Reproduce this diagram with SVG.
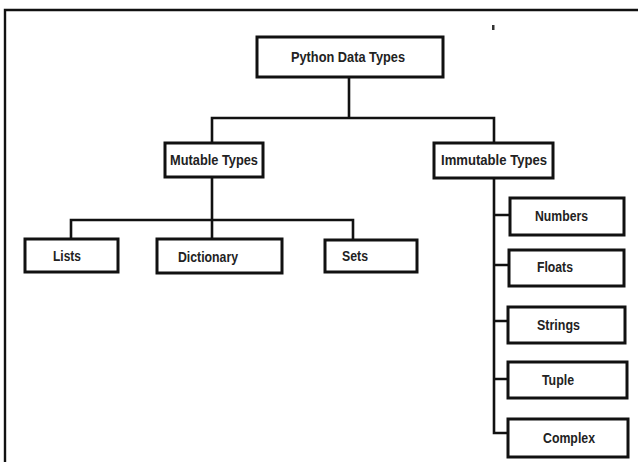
<svg xmlns="http://www.w3.org/2000/svg" width="638" height="462" viewBox="0 0 638 462">
<style>
.box{fill:#fff;stroke:#111;stroke-width:3}
.lbl{font-family:"Liberation Sans",Arial,sans-serif;font-size:15px;font-weight:bold;fill:#222}
.con{fill:none;stroke:#111;stroke-width:2.6;stroke-linecap:square}
.frame{fill:none;stroke:#111;stroke-width:2.4}
</style>
<rect width="638" height="462" fill="#fff"/>
<path class="frame" d="M5 462 V10 H638"/>
<rect x="492" y="25" width="2.5" height="5" fill="#333"/>
<g id="connectors">
<path class="con" d="M349 77 V118 M212 118 H494 M212 118 V143 M494 118 V143"/>
<path class="con" d="M212 177 V239 M71 220 H353 M71 220 V239 M353 220 V240"/>
<path class="con" d="M494 178 V433 M494 215 H510 M494 265 H509 M494 321 H508 M494 379 H508 M494 433 H508"/>
</g>
<g id="python-data-types"><rect class="box" x="257" y="37" width="186" height="40"/><text class="lbl" x="291" y="62" textLength="114" lengthAdjust="spacingAndGlyphs">Python Data Types</text></g>
<g id="mutable-types"><rect class="box" x="165" y="143" width="98" height="34"/><text class="lbl" x="170" y="165" textLength="88" lengthAdjust="spacingAndGlyphs">Mutable Types</text></g>
<g id="immutable-types"><rect class="box" x="434" y="143" width="119" height="35"/><text class="lbl" x="441" y="165" textLength="106" lengthAdjust="spacingAndGlyphs">Immutable Types</text></g>
<g id="lists"><rect class="box" x="25" y="239" width="93" height="33"/><text class="lbl" x="53" y="261" textLength="28" lengthAdjust="spacingAndGlyphs">Lists</text></g>
<g id="dictionary"><rect class="box" x="157" y="239" width="125" height="34"/><text class="lbl" x="178" y="262" textLength="60" lengthAdjust="spacingAndGlyphs">Dictionary</text></g>
<g id="sets"><rect class="box" x="325" y="240" width="92" height="32"/><text class="lbl" x="342" y="261" textLength="26" lengthAdjust="spacingAndGlyphs">Sets</text></g>
<g id="numbers"><rect class="box" x="510" y="198" width="114" height="37"/><text class="lbl" x="535" y="221" textLength="53" lengthAdjust="spacingAndGlyphs">Numbers</text></g>
<g id="floats"><rect class="box" x="509" y="250" width="115" height="36"/><text class="lbl" x="537" y="272" textLength="36" lengthAdjust="spacingAndGlyphs">Floats</text></g>
<g id="strings"><rect class="box" x="508" y="307" width="117" height="36"/><text class="lbl" x="537" y="330" textLength="43" lengthAdjust="spacingAndGlyphs">Strings</text></g>
<g id="tuple"><rect class="box" x="508" y="362" width="119" height="36"/><text class="lbl" x="542" y="385" textLength="32" lengthAdjust="spacingAndGlyphs">Tuple</text></g>
<g id="complex"><rect class="box" x="508" y="419" width="120" height="38"/><text class="lbl" x="543" y="443" textLength="52" lengthAdjust="spacingAndGlyphs">Complex</text></g>
</svg>
